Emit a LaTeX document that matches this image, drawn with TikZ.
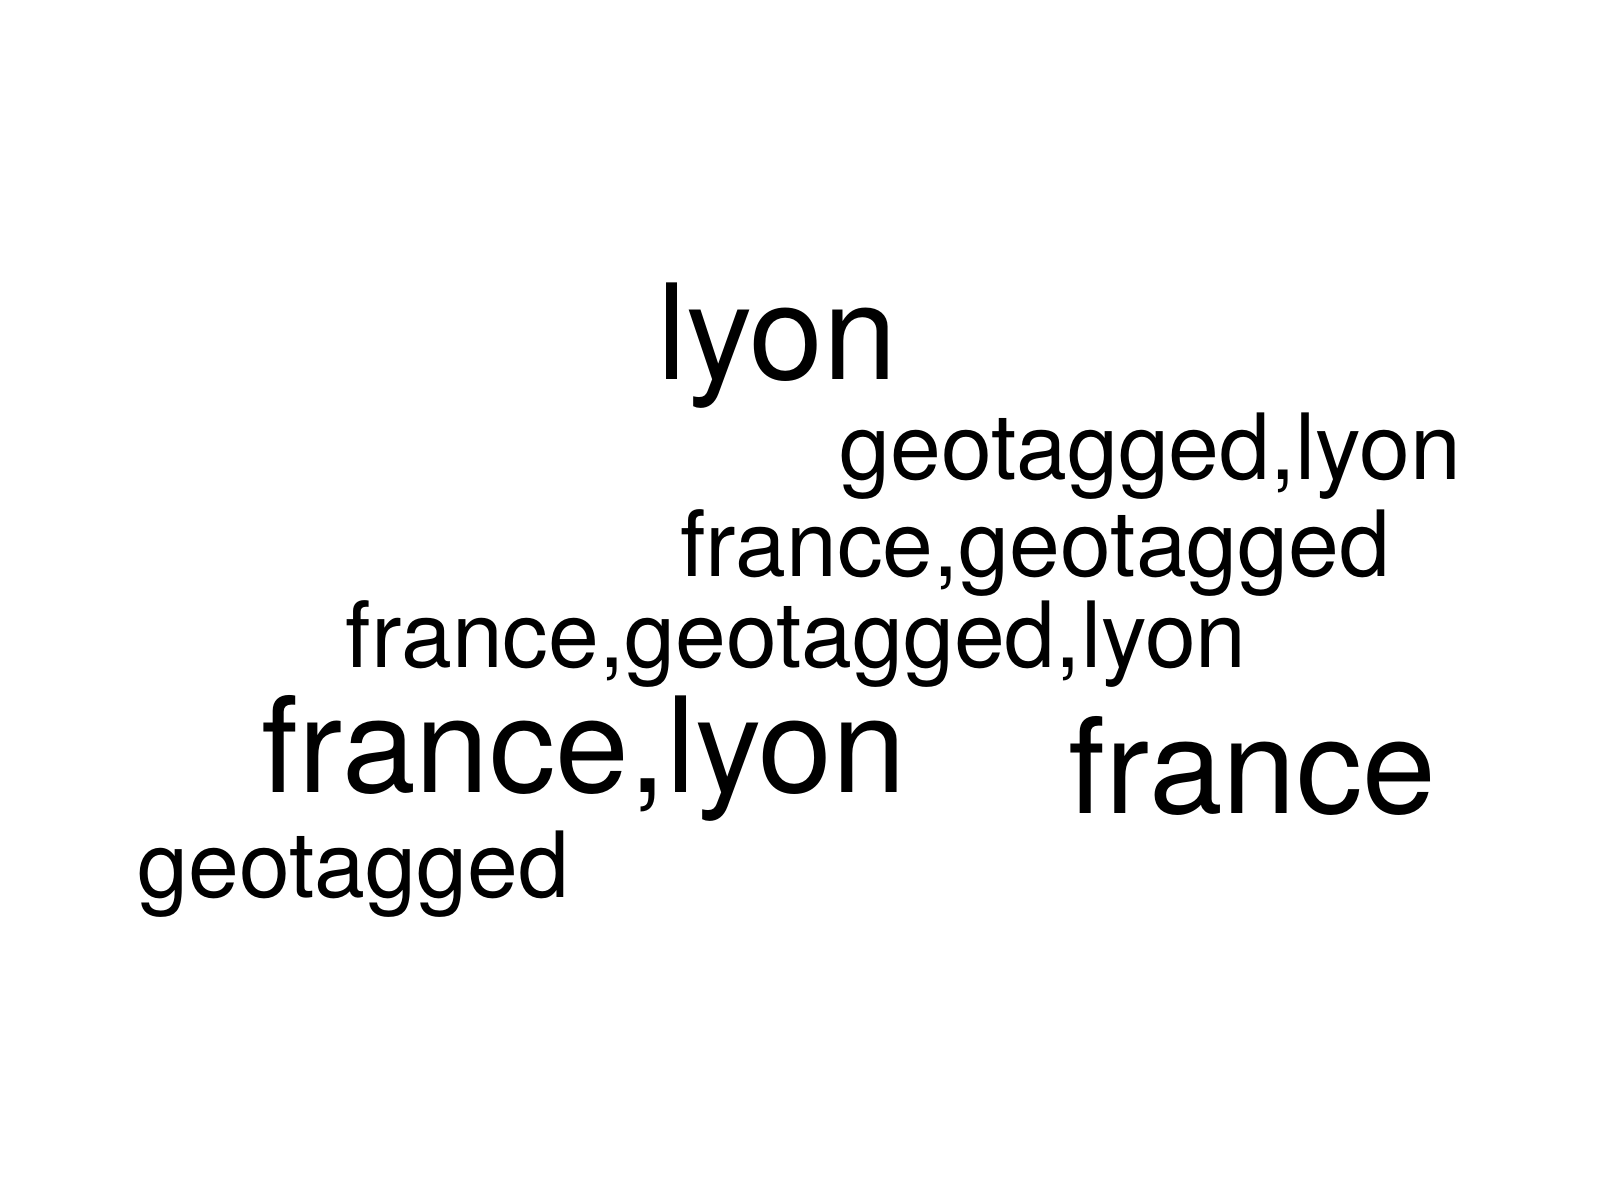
\documentclass[tikz,border=0pt]{standalone}
\usepackage{fontspec}
\setmainfont{TeX Gyre Heros}
\begin{document}
\begin{tikzpicture}[x=1pt,y=1pt,
  big/.style={anchor=base west,inner sep=0pt,font=\fontsize{66.3}{66.3}\selectfont},
  small/.style={anchor=base west,inner sep=0pt,font=\fontsize{45.7}{45.7}\selectfont}]
\useasboundingbox[fill=white] (0,0) rectangle (800,600);
\node[big] (w1) at (328.4,410.3) {lyon};
\node[small] (w2) at (419.5,360.4) {geotagged,lyon};
\node[small] (w3) at (339.8,311.6) {france,geotagged};
\node[small] (w4) at (172.7,266.3) {france,geotagged,lyon};
\node[big] (w5) at (130.6,203.6) {france,lyon};
\node[big] (w6) at (534.1,193.3) {france};
\node[small] (w7) at (68.7,151.2) {geotagged};
\end{tikzpicture}
\end{document}
